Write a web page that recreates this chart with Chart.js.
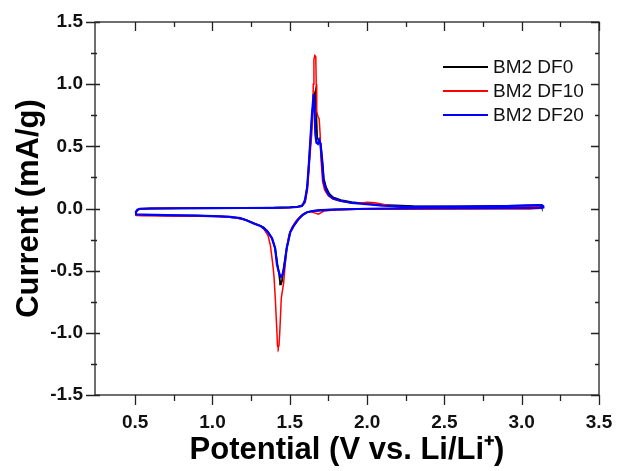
<!DOCTYPE html>
<html><head><meta charset="utf-8">
<script src="https://cdn.jsdelivr.net/npm/chart.js@4/dist/chart.umd.min.js"></script>
<style>html,body{margin:0;padding:0;background:#fff}#wrap{width:617px;height:471px}</style>
</head><body><div id="wrap"><canvas id="c" width="617" height="471"></canvas></div>
<script>
// ---- data ----
const seriesLabels = ['BM2 DF0', 'BM2 DF10', 'BM2 DF20'];
const seriesColors = ['#000000', '#ff0000', '#0000ff'];

// BM2 DF0 (black)
const df0AnodicPotential = [0.50,0.505,0.515,0.53,0.6,0.8,1.0,1.2,1.4,1.5,1.55,1.58,1.60,1.615,1.63,1.645,1.657,1.665,1.67,1.677,1.69,1.70,1.71,1.72,1.735,1.755,1.78,1.83,1.9,2.0,2.1,2.3,2.6,2.9,3.1,3.125,3.13];
const df0AnodicCurrent   = [-0.05,-0.03,-0.012,-0.004,0.0,0.002,0.003,0.004,0.006,0.01,0.015,0.025,0.07,0.2,0.48,0.76,0.9,0.94,0.8,0.57,0.54,0.52,0.4,0.24,0.17,0.12,0.09,0.068,0.052,0.038,0.028,0.018,0.016,0.02,0.025,0.024,0.015];
const df0CathodicPotential = [3.13,3.1,2.8,2.4,2.0,1.8,1.7,1.65,1.611,1.585,1.557,1.525,1.503,1.48,1.47,1.458,1.45,1.443,1.437,1.43,1.42,1.405,1.385,1.36,1.33,1.29,1.25,1.2,1.15,1.05,0.9,0.7,0.55,0.51,0.50];
const df0CathodicCurrent   = [0.008,0.004,0.002,0.0,-0.003,-0.008,-0.012,-0.02,-0.03,-0.05,-0.084,-0.14,-0.19,-0.32,-0.4,-0.5,-0.58,-0.61,-0.59,-0.52,-0.45,-0.32,-0.24,-0.19,-0.15,-0.13,-0.11,-0.085,-0.073,-0.063,-0.058,-0.055,-0.052,-0.05,-0.05];

// BM2 DF10 (red)
const df10AnodicPotential = [0.50,0.505,0.515,0.53,0.6,0.8,1.0,1.2,1.4,1.5,1.55,1.58,1.60,1.615,1.63,1.642,1.648,1.652,1.656,1.662,1.668,1.671,1.674,1.682,1.69,1.696,1.703,1.712,1.725,1.75,1.78,1.83,1.9,1.95,2.0,2.05,2.1,2.2,2.3,2.6,2.9,3.05,3.1,3.12];
const df10AnodicCurrent   = [-0.055,-0.03,-0.012,-0.003,0.0,0.002,0.003,0.004,0.005,0.008,0.012,0.02,0.05,0.16,0.42,0.6,0.75,1.0,1.2,1.23,1.22,1.0,0.78,0.74,0.72,0.6,0.38,0.22,0.15,0.1,0.075,0.058,0.045,0.042,0.05,0.046,0.035,0.012,0.004,0.008,0.012,0.015,0.018,0.012];
const df10CathodicPotential = [3.12,3.05,2.8,2.4,2.0,1.8,1.72,1.685,1.66,1.63,1.6,1.57,1.54,1.515,1.495,1.48,1.47,1.46,1.445,1.435,1.43,1.425,1.42,1.417,1.406,1.398,1.39,1.375,1.36,1.33,1.31,1.27,1.22,1.15,1.05,0.9,0.7,0.55,0.51,0.50];
const df10CathodicCurrent   = [0.002,-0.004,-0.003,-0.004,-0.005,-0.01,-0.02,-0.045,-0.035,-0.025,-0.035,-0.06,-0.1,-0.15,-0.21,-0.32,-0.45,-0.6,-0.72,-1.0,-1.1,-1.12,-1.1,-1.0,-0.72,-0.55,-0.45,-0.3,-0.22,-0.16,-0.14,-0.12,-0.095,-0.075,-0.065,-0.062,-0.06,-0.058,-0.056,-0.055];

// BM2 DF20 (blue)
const df20AnodicPotential = [0.50,0.505,0.515,0.53,0.6,0.8,1.0,1.2,1.4,1.5,1.55,1.578,1.595,1.611,1.622,1.633,1.644,1.654,1.66,1.665,1.672,1.682,1.69,1.698,1.708,1.719,1.735,1.751,1.78,1.827,1.9,1.978,2.1,2.28,2.6,2.9,3.1,3.13,3.14];
const df20AnodicCurrent   = [-0.045,-0.025,-0.01,-0.002,0.0,0.002,0.003,0.004,0.005,0.008,0.012,0.02,0.05,0.155,0.33,0.55,0.77,0.92,0.8,0.6,0.53,0.52,0.55,0.52,0.38,0.21,0.15,0.11,0.08,0.062,0.045,0.036,0.022,0.014,0.016,0.02,0.027,0.028,0.018];
const df20CathodicPotential = [3.14,3.1,2.8,2.4,2.0,1.8,1.7,1.65,1.611,1.585,1.557,1.525,1.503,1.48,1.47,1.46,1.45,1.443,1.434,1.425,1.417,1.405,1.385,1.352,1.31,1.266,1.22,1.18,1.1,0.9,0.7,0.55,0.51,0.50];
const df20CathodicCurrent   = [0.008,0.004,0.003,0.002,-0.002,-0.008,-0.015,-0.02,-0.03,-0.05,-0.084,-0.14,-0.19,-0.32,-0.42,-0.5,-0.54,-0.55,-0.53,-0.49,-0.45,-0.32,-0.24,-0.18,-0.14,-0.12,-0.095,-0.078,-0.065,-0.057,-0.054,-0.05,-0.048,-0.045];

// axes
const xTickValues = [0.5, 1.0, 1.5, 2.0, 2.5, 3.0, 3.5];
const xMinorTicks = [0.75, 1.25, 1.75, 2.25, 2.75, 3.25];
const yTickValues = [-1.5, -1.0, -0.5, 0.0, 0.5, 1.0, 1.5];
const yMinorTicks = [-1.25, -0.75, -0.25, 0.25, 0.75, 1.25];
const xTitle = 'Potential (V vs. Li/Li\u207A)';
const yTitle = 'Current (mA/g)';

// ---- build ----
function loop(ap, ac, cp, cc) {
  const pts = [];
  ap.forEach((v, i) => pts.push({x: v, y: ac[i]}));
  cp.forEach((v, i) => pts.push({x: v, y: cc[i]}));
  return pts;
}
const seriesData = [
  loop(df0AnodicPotential, df0AnodicCurrent, df0CathodicPotential, df0CathodicCurrent),
  loop(df10AnodicPotential, df10AnodicCurrent, df10CathodicPotential, df10CathodicCurrent),
  loop(df20AnodicPotential, df20AnodicCurrent, df20CathodicPotential, df20CathodicCurrent)
];
const widths = [1.8, 1.5, 2.2];
const orders = [3, 2, 1];

const FONT = '"Liberation Sans", Arial, Helvetica, sans-serif';

const frameTicks = {
  id: 'frameTicks',
  afterDraw(chart) {
    const {ctx, chartArea: a, scales: {x, y}} = chart;
    ctx.save();
    ctx.strokeStyle = '#222';
    ctx.lineWidth = 1.3;
    ctx.strokeRect(a.left, a.top, a.right - a.left, a.bottom - a.top);
    ctx.beginPath();
    const seg = (x1, y1, x2, y2) => { ctx.moveTo(x1, y1); ctx.lineTo(x2, y2); };
    xTickValues.forEach(v => { const p = Math.round(x.getPixelForValue(v)) + 0.5; seg(p, a.bottom, p, a.bottom + 10); seg(p, a.top, p, a.top + 9); });
    xMinorTicks.forEach(v => { const p = Math.round(x.getPixelForValue(v)) + 0.5; seg(p, a.bottom, p, a.bottom + 6); seg(p, a.top, p, a.top + 5); });
    yTickValues.forEach(v => { const p = Math.round(y.getPixelForValue(v)) + 0.5; seg(a.left - 9, p, a.left + 5, p); seg(a.right - 8, p, a.right, p); });
    yMinorTicks.forEach(v => { const p = Math.round(y.getPixelForValue(v)) + 0.5; seg(a.left - 4, p, a.left + 2, p); seg(a.right - 4, p, a.right, p); });
    ctx.stroke();

    // legend
    const lx = a.right - 156, ly = a.top + 45, step = 24;
    ctx.font = '19px ' + FONT;
    ctx.textBaseline = 'middle';
    ctx.textAlign = 'left';
    chart.data.datasets.forEach((ds, i) => {
      const yy = ly + i * step;
      ctx.beginPath();
      ctx.strokeStyle = ds.borderColor;
      ctx.lineWidth = 2;
      ctx.moveTo(lx, yy); ctx.lineTo(lx + 45, yy);
      ctx.stroke();
      ctx.fillStyle = '#111';
      ctx.fillText(ds.label, lx + 50, yy + 1);
    });
    ctx.restore();
  }
};

new Chart(document.getElementById('c'), {
  type: 'scatter',
  data: {
    datasets: seriesLabels.map((lab, i) => ({
      label: lab,
      data: seriesData[i],
      showLine: true,
      borderColor: seriesColors[i],
      backgroundColor: seriesColors[i],
      borderWidth: widths[i],
      pointRadius: 0,
      tension: 0,
      order: orders[i]
    }))
  },
  options: {
    responsive: false,
    animation: false,
    devicePixelRatio: 1,
    layout: {padding: {top: 22, right: 18, left: 0, bottom: 0}},
    plugins: {legend: {display: false}, tooltip: {enabled: false}},
    scales: {
      x: {
        type: 'linear', position: 'bottom', min: 0.24, max: 3.5,
        grid: {display: false, drawTicks: false},
        border: {display: false},
        afterBuildTicks: s => { s.ticks = xTickValues.map(v => ({value: v})); },
        afterFit: s => { s.height = 76; s.paddingLeft = 0; s.paddingRight = 0; },
        ticks: {
          font: {family: FONT, size: 19, weight: 'bold'}, color: '#111', padding: 16,
          maxRotation: 0, autoSkip: false, callback: v => Number(v).toFixed(1)
        },
        title: {display: true, text: xTitle, color: '#000',
          font: {family: FONT, size: 31, weight: 'bold', lineHeight: 1}, padding: {top: 0, bottom: 5}}
      },
      y: {
        type: 'linear', position: 'left', min: -1.5, max: 1.5,
        grid: {display: false, drawTicks: false},
        border: {display: false},
        afterBuildTicks: s => { s.ticks = yTickValues.map(v => ({value: v})); },
        afterFit: s => { s.width = 95; s.paddingTop = 0; s.paddingBottom = 0; },
        ticks: {
          font: {family: FONT, size: 19, weight: 'bold'}, color: '#111', padding: 12,
          autoSkip: false, callback: v => Number(v).toFixed(1)
        },
        title: {display: true, text: yTitle, color: '#000',
          font: {family: FONT, size: 31, weight: 'bold', lineHeight: 1}, padding: {top: 14, bottom: 0}}
      }
    }
  },
  plugins: [frameTicks]
});
</script>
</body></html>
